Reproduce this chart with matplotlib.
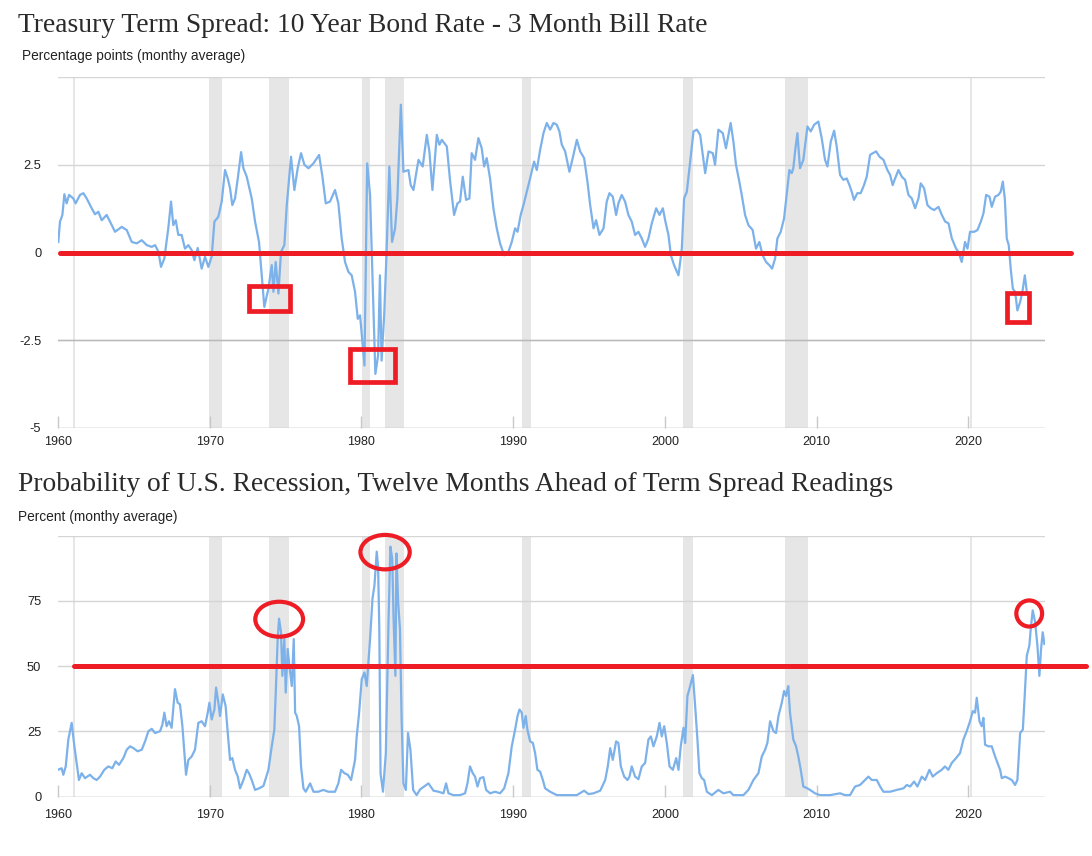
import matplotlib
matplotlib.use("Agg")
import matplotlib.pyplot as plt
from matplotlib.patches import Rectangle, Ellipse

# ---------------- data ----------------
spread_years = [
    1960.02, 1960.13, 1960.29, 1960.42, 1960.57, 1960.73, 1961.01, 1961.16, 1961.45, 1961.67,
    1961.89, 1962.22, 1962.44, 1962.66, 1962.88, 1963.21, 1963.43, 1963.76, 1964.20, 1964.53,
    1964.86, 1965.19, 1965.52, 1965.85, 1966.18, 1966.40, 1966.62, 1966.79, 1967.01, 1967.27,
    1967.45, 1967.60, 1967.76, 1967.93, 1968.15, 1968.37, 1968.59, 1968.81, 1968.99, 1969.21,
    1969.47, 1969.69, 1969.91, 1970.13, 1970.31, 1970.57, 1970.79, 1971.01, 1971.19, 1971.34,
    1971.49, 1971.67, 1971.85, 1972.07, 1972.22, 1972.44, 1972.77, 1972.99, 1973.25, 1973.43,
    1973.60, 1973.87, 1974.09, 1974.20, 1974.35, 1974.53, 1974.70, 1974.92, 1975.08, 1975.36,
    1975.58, 1975.80, 1976.02, 1976.24, 1976.51, 1976.84, 1977.21, 1977.43, 1977.65, 1977.93,
    1978.26, 1978.48, 1978.70, 1978.92, 1979.14, 1979.36, 1979.58, 1979.76, 1979.91, 1979.99,
    1980.20, 1980.38, 1980.57, 1980.73, 1980.92, 1981.10, 1981.22, 1981.33, 1981.50, 1981.66,
    1981.84, 1982.02, 1982.22, 1982.37, 1982.60, 1982.77, 1983.10, 1983.25, 1983.43, 1983.76,
    1984.04, 1984.31, 1984.48, 1984.68, 1984.97, 1985.14, 1985.30, 1985.63, 1985.85, 1986.11,
    1986.33, 1986.50, 1986.68, 1986.90, 1987.12, 1987.27, 1987.49, 1987.71, 1987.93, 1988.09,
    1988.26, 1988.48, 1988.70, 1988.92, 1989.14, 1989.41, 1989.69, 1989.91, 1990.13, 1990.29,
    1990.50, 1990.68, 1990.90, 1991.12, 1991.38, 1991.56, 1991.78, 1992.00, 1992.22, 1992.44,
    1992.66, 1992.88, 1993.05, 1993.21, 1993.43, 1993.71, 1993.93, 1994.20, 1994.42, 1994.68,
    1994.90, 1995.08, 1995.30, 1995.47, 1995.69, 1995.96, 1996.17, 1996.35, 1996.57, 1996.79,
    1996.94, 1997.16, 1997.38, 1997.60, 1997.82, 1998.04, 1998.26, 1998.48, 1998.70, 1998.92,
    1999.14, 1999.43, 1999.65, 1999.87, 2000.04, 2000.24, 2000.40, 2000.61, 2000.90, 2001.12,
    2001.27, 2001.45, 2001.67, 2001.89, 2002.11, 2002.33, 2002.50, 2002.66, 2002.88, 2003.16,
    2003.31, 2003.53, 2003.82, 2004.03, 2004.19, 2004.34, 2004.52, 2004.69, 2004.91, 2005.07,
    2005.29, 2005.51, 2005.79, 2006.01, 2006.23, 2006.45, 2006.67, 2006.89, 2007.07, 2007.27,
    2007.42, 2007.64, 2007.86, 2008.03, 2008.21, 2008.36, 2008.47, 2008.61, 2008.74, 2008.91,
    2009.13, 2009.40, 2009.62, 2009.84, 2010.12, 2010.34, 2010.56, 2010.72, 2010.94, 2011.16,
    2011.33, 2011.55, 2011.77, 2011.99, 2012.17, 2012.32, 2012.47, 2012.69, 2012.91, 2013.13,
    2013.31, 2013.53, 2013.71, 2013.93, 2014.15, 2014.41, 2014.67, 2014.85, 2015.02, 2015.18,
    2015.40, 2015.62, 2015.84, 2016.06, 2016.28, 2016.50, 2016.72, 2016.87, 2017.09, 2017.31,
    2017.53, 2017.75, 2018.04, 2018.26, 2018.48, 2018.70, 2018.92, 2019.20, 2019.35, 2019.57,
    2019.79, 2019.95, 2020.12, 2020.39, 2020.61, 2020.83, 2021.00, 2021.18, 2021.40, 2021.55,
    2021.77, 2021.99, 2022.14, 2022.28, 2022.41, 2022.54, 2022.67, 2022.80, 2022.94, 2023.09,
    2023.24, 2023.42, 2023.57, 2023.73, 2023.86,
]
spread_values = [
    0.30, 0.88, 1.07, 1.66, 1.40, 1.64, 1.54, 1.40, 1.64, 1.69,
    1.54, 1.26, 1.09, 1.16, 0.92, 1.07, 0.88, 0.59, 0.73, 0.64,
    0.30, 0.26, 0.35, 0.21, 0.16, 0.21, 0.02, -0.41, -0.17, 0.69,
    1.45, 0.78, 0.92, 0.50, 0.50, 0.11, 0.21, 0.07, -0.22, 0.13,
    -0.46, -0.12, -0.41, -0.12, 0.88, 1.02, 1.45, 2.35, 2.11, 1.83,
    1.35, 1.54, 2.11, 2.86, 2.40, 2.16, 1.54, 0.88, 0.30, -0.65,
    -1.55, -1.03, -0.36, -1.12, -0.27, -1.17, 0.02, 0.21, 1.35, 2.73,
    1.78, 2.40, 2.83, 2.50, 2.40, 2.54, 2.78, 2.16, 1.40, 1.45,
    1.78, 1.40, 0.40, -0.27, -0.55, -0.65, -1.12, -1.89, -1.79, -2.17,
    -3.22, 2.54, 1.64, -0.65, -3.46, -2.93, -0.65, -3.08, -1.79, 0.02,
    2.45, 0.30, 0.69, 1.54, 4.21, 2.30, 2.35, 1.92, 1.78, 2.64,
    2.45, 3.35, 2.88, 1.78, 3.35, 3.07, 3.21, 3.02, 2.02, 1.07,
    1.40, 1.45, 2.16, 1.50, 1.54, 2.83, 2.64, 3.26, 2.97, 2.45,
    2.69, 2.11, 1.26, 0.69, 0.26, -0.08, 0.02, 0.30, 0.69, 0.59,
    1.07, 1.35, 1.73, 2.11, 2.59, 2.35, 2.92, 3.40, 3.69, 3.50,
    3.69, 3.64, 3.45, 3.07, 2.88, 2.30, 2.69, 3.21, 2.88, 2.69,
    2.02, 1.35, 0.69, 0.92, 0.50, 0.69, 1.45, 1.69, 1.59, 1.07,
    1.40, 1.64, 1.45, 1.07, 0.88, 0.50, 0.59, 0.40, 0.16, 0.40,
    0.83, 1.26, 1.07, 1.26, 0.88, 0.50, -0.08, -0.36, -0.65, 0.11,
    1.54, 1.73, 2.59, 3.45, 3.50, 3.35, 2.78, 2.26, 2.88, 2.83,
    2.50, 3.50, 3.40, 2.97, 3.35, 3.69, 3.16, 2.50, 2.02, 1.64,
    1.07, 0.78, 0.64, 0.11, 0.30, -0.08, -0.27, -0.36, -0.46, -0.17,
    0.40, 0.59, 0.97, 1.64, 2.35, 2.26, 2.40, 2.97, 3.40, 2.40,
    2.64, 3.59, 3.45, 3.64, 3.73, 3.26, 2.64, 2.45, 3.16, 3.47,
    3.02, 2.21, 2.07, 2.11, 1.92, 1.73, 1.50, 1.69, 1.69, 1.92,
    2.16, 2.78, 2.83, 2.88, 2.73, 2.64, 2.35, 2.21, 1.92, 2.11,
    2.35, 2.16, 2.07, 1.64, 1.54, 1.26, 1.54, 1.97, 1.83, 1.35,
    1.26, 1.21, 1.30, 1.07, 0.88, 0.83, 0.40, 0.11, 0.02, -0.27,
    0.30, 0.11, 0.59, 0.59, 0.64, 0.88, 1.11, 1.64, 1.59, 1.30,
    1.59, 1.64, 1.73, 2.02, 1.54, 0.40, 0.21, -0.46, -1.03, -1.12,
    -1.65, -1.41, -1.12, -0.65, -1.12,
]

prob_years = [
    1960.00, 1960.24, 1960.35, 1960.51, 1960.68, 1960.90, 1961.08, 1961.23, 1961.38, 1961.56,
    1961.78, 1962.11, 1962.33, 1962.55, 1962.77, 1963.05, 1963.32, 1963.58, 1963.80, 1964.02,
    1964.31, 1964.53, 1964.75, 1964.97, 1965.25, 1965.52, 1965.74, 1965.96, 1966.18, 1966.40,
    1966.73, 1966.88, 1967.01, 1967.16, 1967.32, 1967.49, 1967.71, 1967.89, 1968.04, 1968.20,
    1968.33, 1968.44, 1968.59, 1968.81, 1969.03, 1969.25, 1969.47, 1969.69, 1969.87, 1969.98,
    1970.13, 1970.31, 1970.42, 1970.57, 1970.68, 1970.86, 1971.05, 1971.19, 1971.34, 1971.49,
    1971.67, 1971.85, 1972.00, 1972.22, 1972.44, 1972.59, 1972.77, 1972.99, 1973.25, 1973.54,
    1973.87, 1974.09, 1974.26, 1974.37, 1974.48, 1974.57, 1974.70, 1974.79, 1974.92, 1975.01,
    1975.14, 1975.25, 1975.41, 1975.54, 1975.63, 1975.74, 1975.89, 1976.02, 1976.18, 1976.33,
    1976.62, 1976.84, 1977.16, 1977.49, 1977.82, 1978.26, 1978.48, 1978.66, 1978.88, 1979.10,
    1979.32, 1979.58, 1979.69, 1979.85, 1980.02, 1980.20, 1980.35, 1980.57, 1980.73, 1980.86,
    1981.01, 1981.10, 1981.18, 1981.26, 1981.42, 1981.61, 1981.79, 1981.91, 1982.03, 1982.12,
    1982.24, 1982.31, 1982.42, 1982.54, 1982.65, 1982.77, 1982.93, 1983.07, 1983.23, 1983.41,
    1983.64, 1983.87, 1984.13, 1984.42, 1984.75, 1985.08, 1985.41, 1985.58, 1985.74, 1986.06,
    1986.50, 1986.83, 1986.99, 1987.16, 1987.34, 1987.49, 1987.65, 1987.82, 1988.04, 1988.22,
    1988.48, 1988.81, 1989.14, 1989.41, 1989.69, 1989.91, 1990.13, 1990.29, 1990.42, 1990.57,
    1990.68, 1990.83, 1990.94, 1991.12, 1991.30, 1991.45, 1991.60, 1991.78, 1991.96, 1992.11,
    1992.44, 1992.88, 1993.54, 1994.20, 1994.68, 1994.97, 1995.30, 1995.74, 1996.07, 1996.24,
    1996.40, 1996.57, 1996.79, 1996.94, 1997.10, 1997.32, 1997.54, 1997.67, 1997.82, 1998.04,
    1998.26, 1998.48, 1998.70, 1998.92, 1999.08, 1999.25, 1999.47, 1999.65, 1999.80, 1999.96,
    2000.13, 2000.31, 2000.53, 2000.75, 2000.90, 2001.05, 2001.23, 2001.34, 2001.49, 2001.67,
    2001.85, 2002.00, 2002.15, 2002.28, 2002.44, 2002.59, 2002.77, 2003.10, 2003.53, 2003.86,
    2004.30, 2004.52, 2005.18, 2005.51, 2005.84, 2006.17, 2006.39, 2006.61, 2006.76, 2006.94,
    2007.16, 2007.33, 2007.49, 2007.71, 2007.86, 2007.99, 2008.14, 2008.25, 2008.36, 2008.47,
    2008.65, 2008.80, 2008.96, 2009.13, 2009.40, 2009.57, 2009.90, 2010.23, 2010.89, 2011.55,
    2011.88, 2012.21, 2012.54, 2012.87, 2013.09, 2013.42, 2013.64, 2013.97, 2014.19, 2014.41,
    2014.85, 2015.29, 2015.73, 2015.95, 2016.17, 2016.43, 2016.65, 2016.94, 2017.16, 2017.44,
    2017.66, 2017.92, 2018.25, 2018.47, 2018.69, 2018.91, 2019.20, 2019.46, 2019.68, 2019.90,
    2020.12, 2020.30, 2020.45, 2020.56, 2020.74, 2020.89, 2021.00, 2021.11, 2021.33, 2021.55,
    2021.77, 2021.93, 2022.10, 2022.21, 2022.43, 2022.65, 2022.87, 2023.09, 2023.24, 2023.42,
    2023.60, 2023.71, 2023.86, 2024.03, 2024.12, 2024.25, 2024.41, 2024.56, 2024.69, 2024.80,
    2024.91, 2025.02,
]
prob_values = [
    10.3, 10.9, 8.4, 11.6, 21.9, 28.3, 19.3, 12.9, 6.4, 9.0,
    7.1, 8.4, 7.1, 6.4, 7.7, 10.3, 11.6, 10.9, 13.5, 12.2,
    14.8, 18.0, 19.3, 18.6, 17.4, 18.0, 21.2, 25.1, 26.0, 24.4,
    25.1, 27.6, 32.2, 27.0, 28.9, 26.4, 41.2, 36.0, 35.4, 27.0,
    16.7, 8.4, 14.1, 15.4, 18.0, 28.3, 28.9, 27.0, 32.2, 36.0,
    29.6, 33.4, 41.8, 36.0, 30.9, 39.2, 34.7, 24.4, 14.1, 14.8,
    10.3, 7.7, 3.2, 6.4, 10.3, 9.0, 6.4, 2.6, 3.2, 4.1,
    10.3, 19.3, 25.7, 42.4, 60.4, 68.2, 63.0, 46.3, 60.4, 39.9,
    56.6, 50.2, 42.4, 60.4, 32.2, 30.9, 27.0, 11.6, 3.2, 1.9,
    5.1, 1.9, 1.9, 2.6, 1.9, 1.9, 5.1, 10.3, 9.0, 8.4,
    6.4, 14.1, 23.1, 32.2, 45.0, 47.6, 42.4, 60.4, 75.9, 81.0,
    93.9, 88.0, 64.3, 9.0, 1.9, 16.7, 68.2, 95.8, 91.3, 68.2,
    46.3, 93.2, 74.6, 64.3, 29.6, 5.1, 2.6, 24.4, 18.0, 2.6,
    0.6, 2.8, 3.9, 5.1, 2.3, 1.9, 1.3, 5.1, 1.3, 0.6,
    0.6, 1.3, 5.1, 11.6, 9.0, 7.7, 3.9, 7.1, 7.5, 2.6,
    1.3, 1.9, 1.3, 3.2, 9.0, 19.3, 25.7, 30.9, 33.4, 32.2,
    26.4, 30.9, 25.7, 21.2, 20.6, 16.7, 10.3, 9.6, 6.4, 3.2,
    1.9, 0.6, 0.6, 0.6, 2.3, 1.0, 1.3, 2.3, 6.4, 11.6,
    18.6, 14.1, 21.2, 20.6, 11.6, 7.7, 6.4, 7.7, 11.6, 7.7,
    6.7, 11.6, 12.9, 21.9, 23.1, 19.3, 23.1, 28.3, 23.1, 27.0,
    20.6, 11.6, 10.3, 14.8, 10.3, 19.3, 26.4, 20.6, 38.6, 42.4,
    46.6, 34.7, 21.9, 9.0, 7.1, 6.4, 1.9, 0.6, 2.6, 1.3,
    1.9, 0.6, 0.6, 2.6, 6.4, 9.0, 15.4, 18.0, 20.6, 28.9,
    25.1, 24.4, 30.9, 36.0, 40.5, 38.6, 42.4, 32.2, 27.0, 21.9,
    19.3, 15.4, 10.3, 3.9, 3.2, 2.6, 1.3, 0.6, 0.6, 1.3,
    0.6, 0.6, 3.9, 4.5, 5.8, 7.7, 6.4, 6.4, 3.9, 1.9,
    1.9, 2.6, 3.2, 4.5, 3.9, 5.8, 3.9, 7.7, 6.4, 10.3,
    7.7, 9.0, 10.3, 11.6, 10.3, 12.9, 14.8, 16.7, 21.9, 25.1,
    28.9, 32.8, 32.2, 37.9, 28.9, 27.0, 30.2, 19.9, 19.3, 19.3,
    15.4, 12.9, 10.3, 7.1, 7.7, 7.1, 6.4, 4.5, 6.4, 24.4,
    25.7, 37.3, 54.0, 57.9, 64.3, 71.4, 66.9, 57.9, 46.3, 56.6,
    63.0, 58.5,
]

recession_start = [1961.00, 1969.98, 1973.89, 1980.07, 1981.58, 1990.56, 2001.18, 2007.92, 2020.10]
recession_end   = [1961.12, 1970.82, 1975.20, 1980.56, 1982.82, 1991.18, 2001.83, 2009.42, 2020.24]

x_ticks = [1960, 1970, 1980, 1990, 2000, 2010, 2020]
x_labels = ["1960", "1970", "1980", "1990", "2000", "2010", "2020"]
spread_ticks = [-5, -2.5, 0, 2.5, 5]
spread_labels = ["-5", "-2.5", "0", "2.5", ""]
prob_ticks = [0, 25, 50, 75, 100]
prob_labels = ["0", "25", "50", "75", ""]

title_top = "Treasury Term Spread: 10 Year Bond Rate - 3 Month Bill Rate"
sub_top = "Percentage points (monthy average)"
title_bot = "Probability of U.S. Recession, Twelve Months Ahead of Term Spread Readings"
sub_bot = "Percent (monthy average)"

# ---------------- style ----------------
W, H = 1092, 856
LINE = "#7cb1ea"
RED = "#ee1c25"
BAND = "#e6e6e6"
GRID = "#d5d5d5"
TXT = "#222222"
SANS = ["Liberation Sans", "DejaVu Sans"]
SERIF = ["Liberation Serif", "DejaVu Serif"]

fig = plt.figure(figsize=(W / 100, H / 100), dpi=100)
fig.patch.set_facecolor("white")


def px_axes(left, top, right, bottom):
    return fig.add_axes([left / W, 1 - bottom / H, (right - left) / W, (bottom - top) / H])


def style_axes(ax, yticks, ylabels, ylim, xpad):
    ax.set_xlim(1960, 2025.06)
    ax.set_ylim(*ylim)
    for s in ax.spines.values():
        s.set_visible(False)
    ax.set_yticks(yticks)
    ax.set_yticklabels(ylabels)
    ax.set_xticks(x_ticks)
    ax.set_xticklabels(x_labels)
    ax.tick_params(axis="y", length=0, pad=12, labelsize=9.3, labelcolor=TXT)
    ax.tick_params(axis="x", direction="in", length=9, width=1, color="#c8c8c8",
                   pad=xpad, labelsize=9, labelcolor=TXT)
    for lab in ax.get_xticklabels() + ax.get_yticklabels():
        lab.set_family(SANS)
    for y in yticks:
        ax.axhline(y, color=GRID, lw=1.0, zorder=0.5)
    for s, e in zip(recession_start, recession_end):
        ax.axvspan(s, e, color=BAND, lw=0, zorder=0.4)


# ---- top chart ----
ax1 = px_axes(58, 77, 1045, 428)
style_axes(ax1, spread_ticks, spread_labels, (-5, 5), 6)
ax1.axhline(-2.5, color="#b9b9b9", lw=1.0, zorder=0.6)
ax1.axhline(-5, color="#c8c8c8", lw=1.0, zorder=0.6)
ax1.plot(spread_years, spread_values, color=LINE, lw=1.6, zorder=2)
ax1.plot([1960.13, 2026.78], [0, 0], color=RED, lw=3.6, solid_capstyle="round",
         zorder=3, clip_on=False)
for (x0, x1, y0, y1) in [(1972.60, 1975.28, -1.68, -0.95),
                         (1979.25, 1982.22, -3.70, -2.74),
                         (2022.55, 2023.99, -1.97, -1.14)]:
    ax1.add_patch(Rectangle((x0, y0), x1 - x0, y1 - y0, fill=False, ec=RED,
                            lw=3.4, joinstyle="miter", zorder=4, clip_on=False))

# ---- bottom chart ----
ax2 = px_axes(58, 535.7, 1045, 796.7)
style_axes(ax2, prob_ticks, prob_labels, (0, 100), 9)
ax2.axhline(0, color="#c8c8c8", lw=1.0, zorder=0.6)
ax2.plot(prob_years, prob_values, color=LINE, lw=1.6, zorder=2)
ax2.plot([1961.03, 2027.76], [50, 50], color=RED, lw=3.6, solid_capstyle="round",
         zorder=3, clip_on=False)
for (cx, cy, w, h) in [(1974.58, 68.0, 3.15, 13.4),
                       (1981.56, 93.7, 3.25, 13.2),
                       (2024.02, 70.2, 1.70, 10.0)]:
    ax2.add_patch(Ellipse((cx, cy), w, h, fill=False, ec=RED, lw=3.0,
                          zorder=4, clip_on=False))

# ---- titles ----
fig.text(18 / W, 1 - 25 / H, title_top, family=SERIF, fontsize=19.8, color="#2a2a2a",
         ha="left", va="center")
fig.text(22 / W, 1 - 56 / H, sub_top, family=SANS, fontsize=9.9, color=TXT,
         ha="left", va="center")
fig.text(18 / W, 1 - 485 / H, title_bot, family=SERIF, fontsize=19.8, color="#2a2a2a",
         ha="left", va="center")
fig.text(18 / W, 1 - 517 / H, sub_bot, family=SANS, fontsize=9.9, color=TXT,
         ha="left", va="center")

fig.savefig("out.png", dpi=100, facecolor="white")
